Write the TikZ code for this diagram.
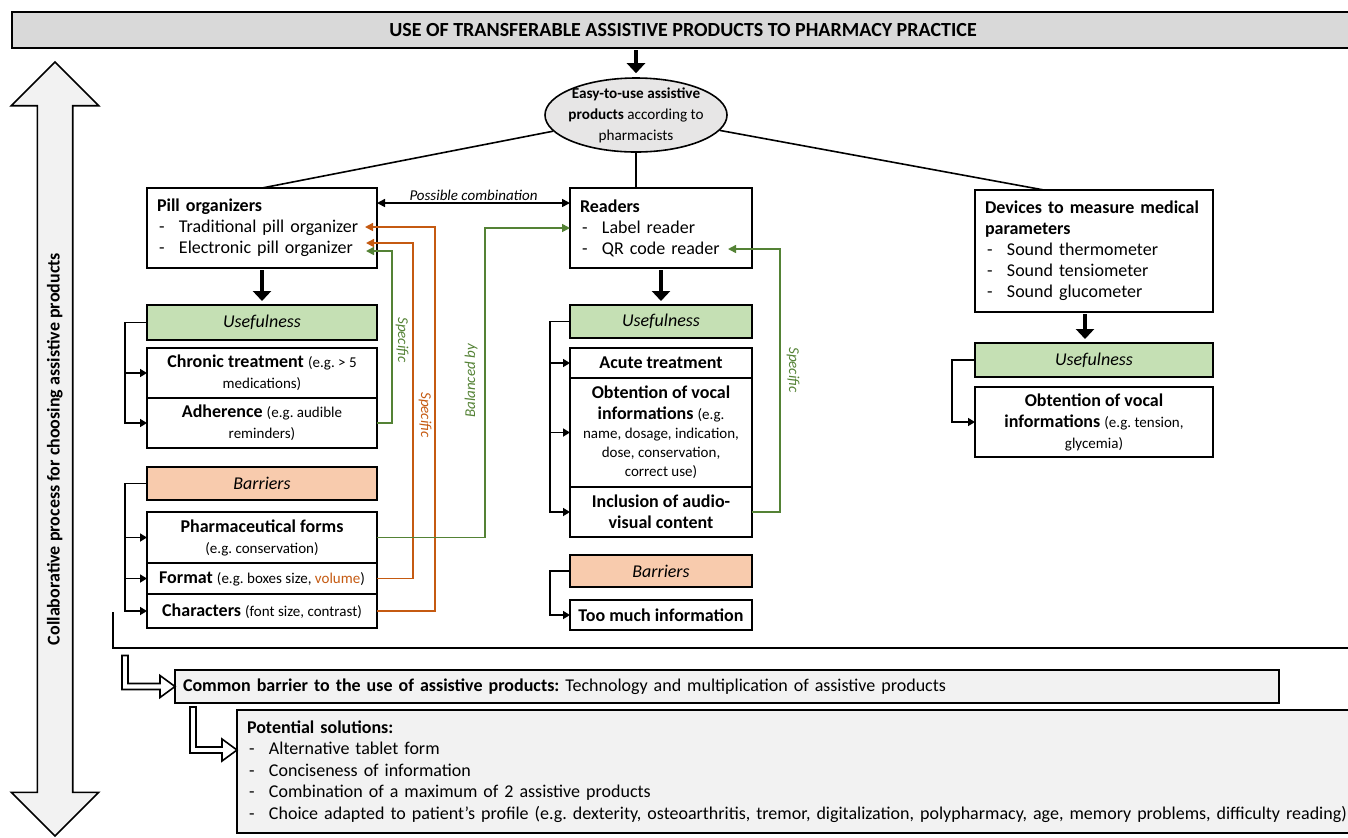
\documentclass[tikz,border=0pt]{standalone}
\usepackage{fontspec}
\setmainfont{Carlito}
\usepackage{xcolor}
\usepackage{tikz}
\usetikzlibrary{shapes.geometric, shapes.arrows, arrows.meta, positioning, calc}
\definecolor{usegreen}{HTML}{C5E0B4}
\definecolor{barsalmon}{HTML}{F8CBAD}
\definecolor{titlegray}{HTML}{D9D9D9}
\definecolor{palegray}{HTML}{F2F2F2}
\definecolor{ellgray}{HTML}{E7E6E6}
\definecolor{linkgreen}{HTML}{548235}
\definecolor{linkorange}{HTML}{C55A11}
\frenchspacing
\newcommand{\itm}{\hspace*{1pt}\makebox[10pt][l]{-}}
\newcommand{\eg}[1]{{\fontsize{7.5}{9}\selectfont #1}}
\tikzset{
    box/.style={rectangle, draw, line width=0.8pt, outer sep=0pt, inner xsep=4pt, inner ysep=1pt,
        fill=white, align=center, font=\fontsize{9}{10.5}\selectfont},
    colL/.style={box, minimum width=115pt},
    colR/.style={box, minimum width=91pt},
    colD/.style={box, minimum width=119pt},
    usebox/.style={fill=usegreen, font=\fontsize{9}{10.5}\selectfont\itshape},
    barbox/.style={fill=barsalmon, font=\fontsize{9}{10.5}\selectfont\itshape},
    listbox/.style={box, align=left, inner xsep=5pt, anchor=north west},
    bigarrow/.style={-{Triangle[length=5pt, width=9pt]}, line width=2.2pt, shorten <=1pt, shorten >=2pt},
    bracket/.style={-{Triangle[length=3.5pt, width=4pt]}, line width=0.8pt},
    greenlink/.style={-{Triangle[length=4pt, width=4pt]}, line width=0.8pt, linkgreen},
    orangelink/.style={-{Triangle[length=4pt, width=4pt]}, line width=0.8pt, linkorange},
    linklabel/.style={font=\fontsize{7.5}{9}\selectfont\itshape, inner sep=1pt},
    hollow/.style={draw, line width=0.8pt, fill=white},
}

\begin{document}
\begin{tikzpicture}[x=0.5pt, y=-0.5pt]
    \useasboundingbox (0,0) rectangle (1348,837);

    % header and process arrow
    \node[box, fill=titlegray, font=\fontsize{10}{11}\selectfont\bfseries, minimum width=671pt,
        minimum height=18pt, anchor=north west] (title) at (12,12)
        {USE OF TRANSFERABLE ASSISTIVE PRODUCTS TO PHARMACY PRACTICE};
    \node[double arrow, draw, line width=0.8pt, fill=palegray, rotate=90, minimum height=387pt,
        double arrow head extend=13pt, inner xsep=0pt, inner ysep=4.2pt, text height=6.5pt, text depth=2pt,
        font=\fontsize{9}{10}\selectfont\bfseries] (collab) at (55,449)
        {Collaborative process for choosing assistive products};

    \node[ellipse, draw, line width=0.8pt, fill=ellgray, minimum width=91pt, minimum height=37pt,
        label={[align=center, font=\fontsize{7.6}{10.5}\selectfont]center:{\textbf{Easy-to-use assistive}\\
        \textbf{products} according to\\pharmacists}}] (easy) at (636,115) {};

    % the three families
    \node[listbox, text width=105pt, minimum height=40pt] (pill) at (147,188)
        {\textbf{Pill organizers}\\ \itm Traditional pill organizer\\ \itm Electronic pill organizer};
    \node[listbox, text width=81pt, minimum height=40pt] (readers) at (570,188)
        {\textbf{Readers}\\ \itm Label reader\\ \itm QR code reader};
    \node[listbox, text width=109pt, minimum height=61pt] (devices) at (975,190)
        {\textbf{Devices to measure medical}\\ \textbf{parameters}\\ \itm Sound thermometer\\
        \itm Sound tensiometer\\ \itm Sound glucometer};

    % pill organizers column
    \node[colL, usebox, minimum height=17.5pt, anchor=north west] (usef1) at (147,305) {Usefulness};
    \node[colL, minimum height=25pt, below=4pt of usef1] (chron)
        {\textbf{Chronic treatment} \eg{(e.g. > 5}\\ \eg{medications)}};
    \node[colL, minimum height=25pt, below=0pt of chron] (adh)
        {\textbf{Adherence} \eg{(e.g. audible}\\ \eg{reminders)}};
    \node[colL, barbox, minimum height=16.5pt, anchor=north west] (bar1) at (147,467) {Barriers};
    \node[colL, minimum height=25.5pt, below=6pt of bar1] (pharm)
        {\textbf{Pharmaceutical forms}\\ \eg{(e.g. conservation)}};
    \node[colL, minimum height=15.5pt, below=0pt of pharm] (fmt)
        {\textbf{Format} \eg{(e.g. boxes size, \textcolor{linkorange}{volume})}};
    \node[colL, minimum height=17pt, below=0pt of fmt] (chars)
        {\textbf{Characters} \eg{(font size, contrast)}};

    % readers column
    \node[colR, usebox, minimum height=16.5pt, anchor=north west] (usef2) at (570,305) {Usefulness};
    \node[colR, minimum height=15pt, below=5pt of usef2] (acute) {\textbf{Acute treatment}};
    \node[colR, minimum height=54.5pt, below=0pt of acute] (obt2)
        {\textbf{Obtention of vocal}\\ \textbf{informations} \eg{(e.g.}\\[-1pt] \eg{name, dosage, indication,}\\[-1pt]
        \eg{dose, conservation,}\\[-1pt] \eg{correct use)}};
    \node[colR, minimum height=25pt, below=0pt of obt2] (incl)
        {\textbf{Inclusion of audio-}\\ \textbf{visual content}};
    \node[colR, barbox, minimum height=16pt, anchor=north west] (bar2) at (570,555) {Barriers};
    \node[colR, minimum height=15pt, below=6.5pt of bar2] (much) {\textbf{Too much information}};

    % devices column
    \node[colD, usebox, minimum height=17pt, anchor=north west] (usef3) at (975,343) {Usefulness};
    \node[colD, minimum height=35pt, below=5pt of usef3] (obt3)
        {\textbf{Obtention of vocal}\\ \textbf{informations} \eg{(e.g. tension,}\\ \eg{glycemia)}};

    % common barrier and solutions
    \node[box, fill=palegray, align=left, text width=544pt, minimum height=16.5pt, anchor=north west] (common)
        at (175,670) {\textbf{Common barrier to the use of assistive products:} Technology and multiplication of assistive products};
    \node[listbox, fill=palegray, text width=590pt, minimum height=61.5pt, font=\fontsize{9}{10.75}\selectfont] (sol)
        at (237,710) {\textbf{Potential solutions:}\\ \itm Alternative tablet form\\ \itm Conciseness of information\\
        \itm Combination of a maximum of 2 assistive products\\
        \itm Choice adapted to patient’s profile (e.g. dexterity, osteoarthritis, tremor, digitalization, polypharmacy, age, memory problems, difficulty reading)};

    % end points inside the boxes
    \coordinate (tradend) at (365,227);
    \coordinate (elecend) at (366,243);
    \coordinate (elecend2) at (366,251);
    \coordinate (qrend) at (728,249);

    % tree from the ellipse
    \draw[bigarrow] (title.south -| easy.north) -- (easy.north);
    \draw[line width=0.8pt] (easy) -- (pill.north);
    \draw[line width=0.8pt] (easy.south) -- (easy.south |- readers.north);
    \draw[line width=0.8pt] (easy) -- ([xshift=-25pt]devices.north);
    \draw[{Triangle[length=4pt, width=4pt]}-{Triangle[length=4pt, width=4pt]}, line width=0.8pt]
        ([yshift=-7.5pt]pill.north east) -- ([yshift=-7.5pt]readers.north west)
        node[midway, above, linklabel] (combi) {Possible combination};

    \draw[bigarrow] (pill.south) -- (usef1.north);
    \draw[bigarrow] (readers.south) -- (usef2.north);
    \draw[bigarrow] ([xshift=-4.5pt]devices.south) -- ([xshift=-4.5pt]usef3.north);

    % brackets
    \foreach \t in {chron, adh}
        \draw[bracket] (usef1.west) -- ++(-22,0) |- (\t.west);
    \foreach \t in {pharm, fmt, chars}
        \draw[bracket] (bar1.west) -- ++(-22,0) |- (\t.west);
    \foreach \t in {acute, obt2, incl}
        \draw[bracket] (usef2.west) -- ++(-20,0) |- (\t.west);
    \draw[bracket] (bar2.west) -- ++(-20,0) |- (much.west);
    \draw[bracket] (usef3.west) -- ++(-23,0) |- (obt3.west);

    % links between barriers and products
    \draw[greenlink] (adh.east) -- ++(15,0) |- (elecend2);
    \draw[orangelink] (fmt.east) -- ++(36,0) |- (elecend);
    \draw[orangelink] (chars.east) -- ++(58,0) |- (tradend);
    \draw[greenlink] (pharm.east) -- ++(108,0) |- ([yshift=-20pt]readers.north west);
    \draw[greenlink] (incl.east) -- ++(28,0) |- (qrend);
    \node[linklabel, text=linkgreen, rotate=-90] (spec1) at (402,340) {Specific};
    \node[linklabel, text=linkorange, rotate=-90] (spec2) at (425,415) {Specific};
    \node[linklabel, text=linkgreen, rotate=90] (bal) at (471,381) {Balanced by};
    \node[linklabel, text=linkgreen, rotate=-90] (spec3) at (793,370) {Specific};

    % bottom part
    \draw[line width=0.8pt] (113,612) -- (113,648) -- (1360,648);
    \draw[hollow] (common.west) -- ++(-15,-11) -- ++(0,8) -- ++(-32,0) -- ++(0,-28) -- ++(-6,0)
        -- ++(0,34) -- ++(38,0) -- ++(0,8) -- cycle;
    \draw[hollow] ([yshift=-20pt]sol.north west) -- ++(-15,-11) -- ++(0,8) -- ++(-26,0) -- ++(0,-40)
        -- ++(-6,0) -- ++(0,46) -- ++(32,0) -- ++(0,8) -- cycle;
\end{tikzpicture}
\end{document}
